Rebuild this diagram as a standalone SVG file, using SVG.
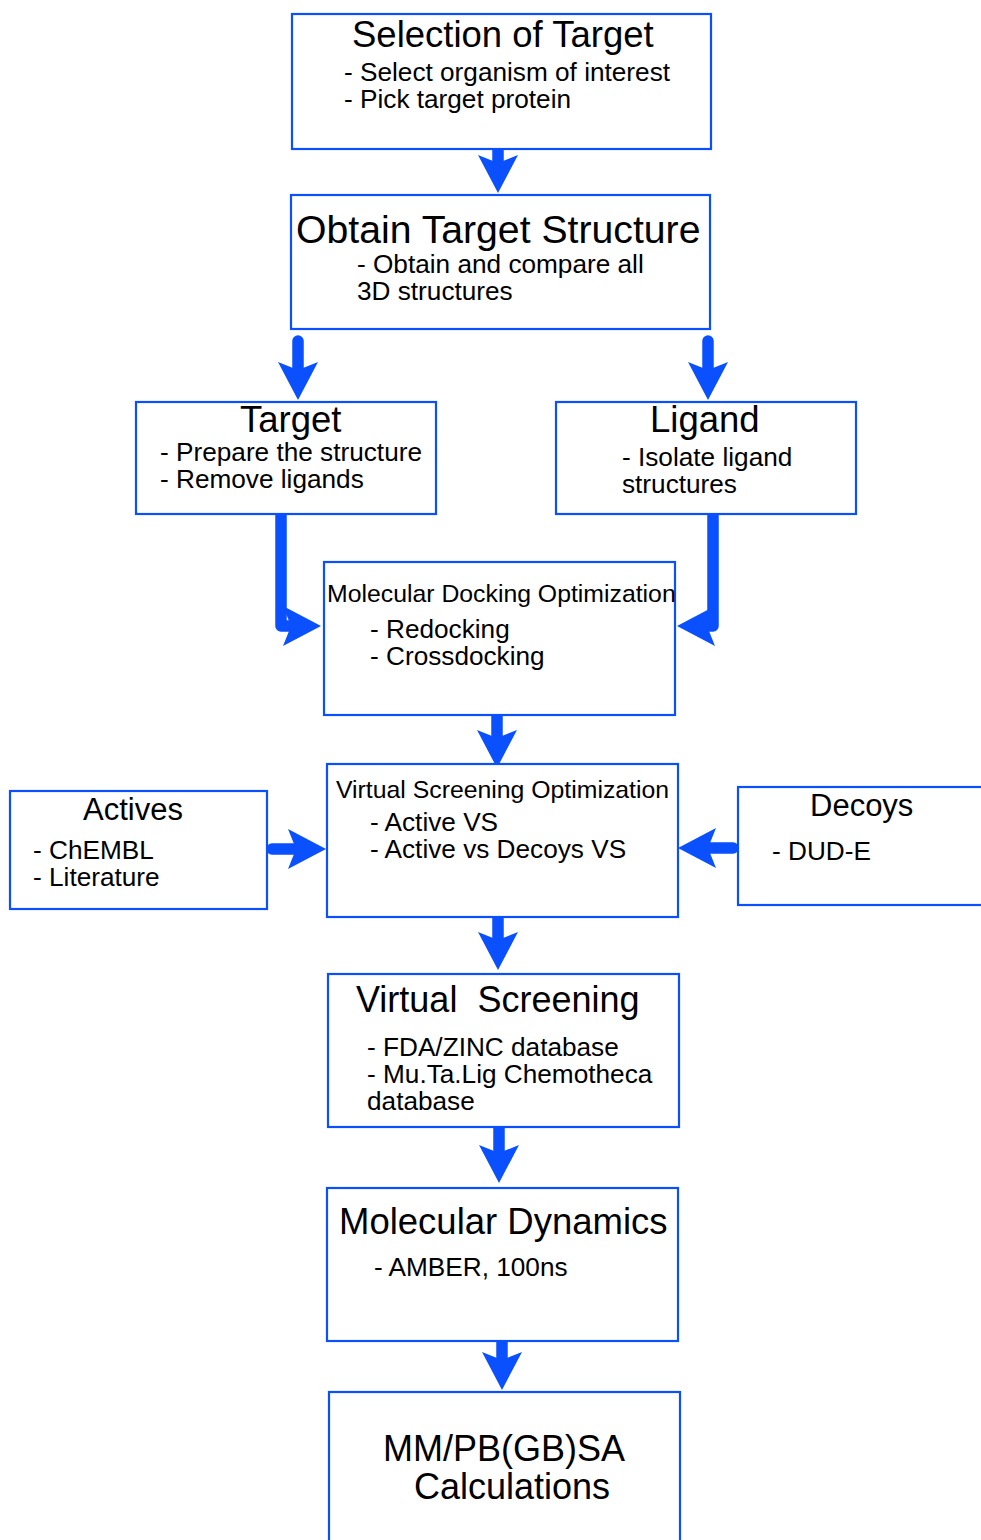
<svg xmlns="http://www.w3.org/2000/svg" width="981" height="1540" viewBox="0 0 981 1540">
  <style>
    .box { fill: #ffffff; stroke: #0a50ff; stroke-width: 2.2; }
    .t { font-family: "Liberation Sans", Arial, sans-serif; fill: #000000; }
    .h36 { font-size: 36.5px; }
    .h25 { font-size: 24.8px; }
    .b26 { font-size: 26.2px; }
    .shaft { fill: none; stroke: #0a50ff; stroke-width: 11.5; stroke-linecap: round; stroke-linejoin: round; }
  </style>
  <defs>
    <marker id="head" markerUnits="userSpaceOnUse" markerWidth="42" markerHeight="42" refX="8" refY="20" orient="auto" viewBox="0 0 42 42">
      <path d="M0,0 L38,20 L0,40 L8,20 Z" fill="#0a50ff"/>
    </marker>
  </defs>

  <rect width="981" height="1540" fill="#ffffff"/>

  <!-- connectors -->
  <g id="connectors">
    <path class="shaft" d="M498,143 L498,163" marker-end="url(#head)"/>
    <path class="shaft" d="M298,341 L298,370" marker-end="url(#head)"/>
    <path class="shaft" d="M708,341 L708,370" marker-end="url(#head)"/>
    <path class="shaft" d="M281,512 L281,626 L291,626" marker-end="url(#head)"/>
    <path class="shaft" d="M713,512 L713,626 L707,626" marker-end="url(#head)"/>
    <path class="shaft" d="M497,715 L497,738" marker-end="url(#head)"/>
    <path class="shaft" d="M272,849 L296,849" marker-end="url(#head)"/>
    <path class="shaft" d="M733,848 L708,848" marker-end="url(#head)"/>
    <path class="shaft" d="M498,918 L498,940" marker-end="url(#head)"/>
    <path class="shaft" d="M499,1127 L499,1153" marker-end="url(#head)"/>
    <path class="shaft" d="M502,1335 L502,1360" marker-end="url(#head)"/>
  </g>

  <g id="selection">
    <rect class="box" x="292" y="14" width="419" height="135"/>
    <text class="t h36" x="352" y="47">Selection of Target</text>
    <text class="t b26" x="344" y="81">- Select organism of interest</text>
    <text class="t b26" x="344" y="108">- Pick target protein</text>
  </g>

  <g id="obtain-structure">
    <rect class="box" x="291" y="195" width="419" height="134"/>
    <text class="t" font-size="39.2" x="296" y="243">Obtain Target Structure</text>
    <text class="t b26" x="357" y="273">- Obtain and compare all</text>
    <text class="t b26" x="357" y="300">3D structures</text>
  </g>

  <g id="target">
    <rect class="box" x="136" y="402" width="300" height="112"/>
    <text class="t h36" x="240" y="432">Target</text>
    <text class="t b26" x="160" y="461">- Prepare the structure</text>
    <text class="t b26" x="160" y="488">- Remove ligands</text>
  </g>

  <g id="ligand">
    <rect class="box" x="556" y="402" width="300" height="112"/>
    <text class="t h36" x="650" y="432">Ligand</text>
    <text class="t b26" x="622" y="466">- Isolate ligand</text>
    <text class="t b26" x="622" y="493">structures</text>
  </g>

  <g id="docking-optimization">
    <rect class="box" x="324" y="562" width="351" height="153"/>
    <text class="t h25" x="327" y="602">Molecular Docking Optimization</text>
    <text class="t b26" x="370" y="638">- Redocking</text>
    <text class="t b26" x="370" y="665">- Crossdocking</text>
  </g>

  <g id="vs-optimization">
    <rect class="box" x="327" y="764" width="351" height="153"/>
    <text class="t h25" x="336" y="798">Virtual Screening Optimization</text>
    <text class="t b26" x="370" y="831">- Active VS</text>
    <text class="t b26" x="370" y="858">- Active vs Decoys VS</text>
  </g>

  <g id="actives">
    <rect class="box" x="10" y="791" width="257" height="118"/>
    <text class="t" font-size="31" x="83" y="820">Actives</text>
    <text class="t b26" x="33" y="859">- ChEMBL</text>
    <text class="t b26" x="33" y="886">- Literature</text>
  </g>

  <g id="decoys">
    <rect class="box" x="738" y="787" width="260" height="118"/>
    <text class="t" font-size="31" x="810" y="816">Decoys</text>
    <text class="t b26" x="772" y="860">- DUD-E</text>
  </g>

  <g id="virtual-screening">
    <rect class="box" x="328" y="974" width="351" height="153"/>
    <text class="t" font-size="36" x="356" y="1012" xml:space="preserve">Virtual  Screening</text>
    <text class="t b26" x="367" y="1056">- FDA/ZINC database</text>
    <text class="t b26" x="367" y="1083">- Mu.Ta.Lig Chemotheca</text>
    <text class="t b26" x="367" y="1110">database</text>
  </g>

  <g id="molecular-dynamics">
    <rect class="box" x="327" y="1188" width="351" height="153"/>
    <text class="t h36" x="339" y="1234">Molecular Dynamics</text>
    <text class="t b26" x="374" y="1276">- AMBER, 100ns</text>
  </g>

  <g id="mmpbsa">
    <rect class="box" x="329" y="1392" width="351" height="170"/>
    <text class="t" font-size="36" x="383" y="1461">MM/PB(GB)SA</text>
    <text class="t" font-size="36" x="414" y="1499">Calculations</text>
  </g>
</svg>
